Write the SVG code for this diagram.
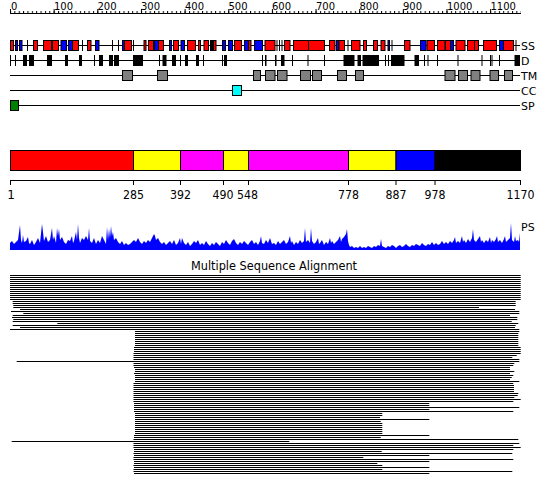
<svg xmlns="http://www.w3.org/2000/svg" width="550" height="495" viewBox="0 0 550 495">
<defs>
<style>
text{font-family:"DejaVu Sans",sans-serif;fill:#000}
.rl{font-family:"Liberation Sans Narrow","DejaVu Sans Condensed","Liberation Sans",sans-serif;font-size:10px}
.ax{font-size:12px;text-anchor:middle}
.lb{font-size:11px}
.r{fill:#f00;stroke:#000;stroke-width:1}
.b{fill:#00f;stroke:#000;stroke-width:1}
.k{fill:#000}
.g{fill:#808080;stroke:#000;stroke-width:1}
.ln{stroke:#000;stroke-width:1;fill:none}
</style>
<pattern id="mt" x="10" y="0" width="4.365" height="20" patternUnits="userSpaceOnUse">
<rect x="0" y="11" width="1" height="3" fill="#000"/>
</pattern>
</defs>
<rect width="550" height="495" fill="#fff"/>

<g id="ruler">
<rect x="10" y="11" width="511" height="3" fill="url(#mt)"/>
<path class="ln" d="M10 13.5H521"/>
<path class="ln" d="M10.5 9V14M54.15 9V14M97.8 9V14M141.45 9V14M185.1 9V14M228.75 9V14M272.4 9V14M316.05 9V14M359.7 9V14M403.35 9V14M447 9V14M490.65 9V14"/>
<g class="rl">
<text x="11" y="10">0</text>
<text x="54" y="10">100</text>
<text x="97.5" y="10">200</text>
<text x="141" y="10">300</text>
<text x="185" y="10">400</text>
<text x="228.5" y="10">500</text>
<text x="272" y="10">600</text>
<text x="316" y="10">700</text>
<text x="359.5" y="10">800</text>
<text x="403" y="10">900</text>
<text x="447" y="10">1000</text>
<text x="490.5" y="10">1100</text>
</g>
</g>

<g id="track-lines">
<path class="ln" d="M10 45.5H520M10 60.5H520M10 75.5H520M10 90.5H520M10 105.5H520"/>
</g>

<g id="SS">
<rect class="r" x="10.5" y="40.5" width="3" height="10"/>
<rect class="b" x="15.5" y="40.5" width="2" height="10"/>
<rect class="b" x="19.5" y="40.5" width="2.5" height="10"/>
<rect class="k" x="27" y="40" width="1" height="11"/>
<rect class="r" x="33.5" y="40.5" width="4" height="10"/>
<rect class="r" x="43.5" y="40.5" width="8" height="10"/>
<rect class="r" x="52.5" y="40.5" width="6" height="10"/>
<rect class="b" x="61" y="40.5" width="5.5" height="10"/>
<rect class="b" x="68.5" y="40.5" width="4" height="10"/>
<rect class="r" x="72.5" y="40.5" width="6" height="10"/>
<rect class="k" x="82" y="40" width="1" height="11"/>
<rect class="r" x="87.5" y="40.5" width="3.5" height="10"/>
<rect class="b" x="95.5" y="40.5" width="3.5" height="10"/>
<rect class="k" x="112" y="40" width="1" height="11"/>
<rect class="k" x="118" y="40" width="1" height="11"/>
<rect class="b" x="122.5" y="40.5" width="2" height="10"/>
<rect class="r" x="124.5" y="40.5" width="7" height="10"/>
<rect class="k" x="133" y="40" width="1" height="11"/>
<rect class="r" x="144" y="40.5" width="2" height="10"/>
<rect class="r" x="148.5" y="40.5" width="5" height="10"/>
<rect class="b" x="154.5" y="40.5" width="4" height="10"/>
<rect class="r" x="158.5" y="40.5" width="5" height="10"/>
<rect class="b" x="169.5" y="40.5" width="2" height="10"/>
<rect class="r" x="173.5" y="40.5" width="5" height="10"/>
<rect class="b" x="181" y="40.5" width="3.5" height="10"/>
<rect class="r" x="187.5" y="40.5" width="8" height="10"/>
<rect class="r" x="198.5" y="40.5" width="2" height="10"/>
<rect class="r" x="204" y="40.5" width="4.5" height="10"/>
<rect class="k" x="210" y="40" width="3.5" height="11"/>
<rect class="r" x="213.5" y="40.5" width="2.5" height="10"/>
<rect class="b" x="222.5" y="40.5" width="3" height="10"/>
<rect class="b" x="228.5" y="40.5" width="4" height="10"/>
<rect class="r" x="234.5" y="40.5" width="7" height="10"/>
<rect class="b" x="244.5" y="40.5" width="4" height="10"/>
<rect class="r" x="248.5" y="40.5" width="2.5" height="10"/>
<rect class="b" x="254.5" y="40.5" width="8" height="10"/>
<rect class="r" x="265" y="40.5" width="10" height="10"/>
<rect class="k" x="276.5" y="40" width="1" height="11"/>
<rect class="k" x="279" y="40" width="1" height="11"/>
<rect class="k" x="281.5" y="40" width="1" height="11"/>
<rect class="r" x="284.5" y="40.5" width="5.5" height="10"/>
<rect class="r" x="293.5" y="40.5" width="15" height="10"/>
<rect class="r" x="308.5" y="40.5" width="16" height="10"/>
<rect class="r" x="329.5" y="40.5" width="5.5" height="10"/>
<rect class="b" x="336.5" y="40.5" width="2.5" height="10"/>
<rect class="r" x="339" y="40.5" width="5.5" height="10"/>
<rect class="k" x="347.5" y="40" width="1" height="11"/>
<rect class="r" x="351.5" y="40.5" width="8.5" height="10"/>
<rect class="r" x="363.5" y="40.5" width="3" height="10"/>
<rect class="r" x="373.5" y="40.5" width="4" height="10"/>
<rect class="r" x="381" y="40.5" width="4" height="10"/>
<rect class="b" x="388" y="40.5" width="1.5" height="10"/>
<rect class="k" x="391.5" y="40" width="1" height="11"/>
<rect class="r" x="404.5" y="40.5" width="5.5" height="10"/>
<rect class="b" x="420.5" y="40.5" width="5.5" height="10"/>
<rect class="r" x="427" y="40.5" width="7.5" height="10"/>
<rect class="r" x="437.5" y="40.5" width="7.5" height="10"/>
<rect class="r" x="445.5" y="40.5" width="5" height="10"/>
<rect class="b" x="450.5" y="40.5" width="3" height="10"/>
<rect class="r" x="456" y="40.5" width="9" height="10"/>
<rect class="r" x="467.5" y="40.5" width="7" height="10"/>
<rect class="r" x="474.5" y="40.5" width="4" height="10"/>
<rect class="r" x="483.5" y="40.5" width="13" height="10"/>
<rect class="b" x="499.5" y="40.5" width="4" height="10"/>
<rect class="r" x="503.5" y="40.5" width="10" height="10"/>
<rect class="k" x="515.5" y="40" width="1" height="11"/>
<text class="lb" x="521" y="50">SS</text>
</g>

<g id="D">
<rect class="k" x="10" y="55" width="1" height="11"/>
<rect class="k" x="15" y="55" width="1" height="11"/>
<rect class="k" x="23" y="55" width="4" height="11"/>
<rect class="k" x="29" y="55" width="5" height="11"/>
<rect class="k" x="47" y="55" width="5" height="11"/>
<rect class="k" x="65" y="55" width="3" height="11"/>
<rect class="k" x="79" y="55" width="3" height="11"/>
<rect class="k" x="94" y="55" width="1" height="11"/>
<rect class="k" x="99" y="55" width="4" height="11"/>
<rect class="k" x="109" y="55" width="4" height="11"/>
<rect class="k" x="114" y="55" width="5" height="11"/>
<rect class="k" x="133" y="55" width="10" height="11"/>
<rect class="k" x="159" y="55" width="1" height="11"/>
<rect class="k" x="162.5" y="55" width="4" height="11"/>
<rect class="k" x="172" y="55" width="4" height="11"/>
<rect class="k" x="180" y="55" width="1" height="11"/>
<rect class="k" x="185" y="55" width="3" height="11"/>
<rect class="k" x="196" y="55" width="3" height="11"/>
<rect class="k" x="203" y="55" width="1" height="11"/>
<rect class="k" x="222" y="55" width="1" height="11"/>
<rect class="k" x="224" y="55" width="3" height="11"/>
<rect class="k" x="262" y="55" width="1" height="11"/>
<rect class="k" x="265" y="55" width="1.5" height="11"/>
<rect class="k" x="275" y="55" width="1.5" height="11"/>
<rect class="k" x="281" y="55" width="3.5" height="11"/>
<rect class="k" x="292" y="55" width="1" height="11"/>
<rect class="k" x="307.5" y="55" width="1" height="11"/>
<rect class="k" x="324" y="55" width="1" height="11"/>
<rect class="k" x="343.5" y="55" width="11" height="11"/>
<rect class="k" x="357.5" y="55" width="3.5" height="11"/>
<rect class="k" x="362.5" y="55" width="16.5" height="11"/>
<rect class="k" x="385" y="55" width="1" height="11"/>
<rect class="k" x="388" y="55" width="1" height="11"/>
<rect class="k" x="391" y="55" width="13.5" height="11"/>
<rect class="k" x="414.5" y="55" width="4.5" height="11"/>
<rect class="k" x="424" y="55" width="1" height="11"/>
<rect class="k" x="427.5" y="55" width="1" height="11"/>
<rect class="k" x="437" y="55" width="1" height="11"/>
<rect class="k" x="457.5" y="55" width="1" height="11"/>
<rect class="k" x="481.5" y="55" width="1" height="11"/>
<rect class="k" x="490" y="55" width="1" height="11"/>
<rect class="k" x="491.5" y="55" width="1" height="11"/>
<rect class="k" x="499" y="55" width="1" height="11"/>
<rect class="k" x="514.5" y="55" width="5.5" height="11"/>
<text class="lb" x="521" y="65">D</text>
</g>

<g id="TM">
<rect class="g" x="122.5" y="70.5" width="10" height="10"/>
<rect class="g" x="157.5" y="70.5" width="10" height="10"/>
<rect class="g" x="253.5" y="70.5" width="7" height="10"/>
<rect class="g" x="265.5" y="70.5" width="9.5" height="10"/>
<rect class="g" x="277.5" y="70.5" width="9.5" height="10"/>
<rect class="g" x="300.5" y="70.5" width="10" height="10"/>
<rect class="g" x="312.5" y="70.5" width="9" height="10"/>
<rect class="g" x="337.5" y="70.5" width="9" height="10"/>
<rect class="g" x="355.5" y="70.5" width="8" height="10"/>
<rect class="g" x="445" y="70.5" width="10" height="10"/>
<rect class="g" x="458.5" y="70.5" width="9" height="10"/>
<rect class="g" x="471" y="70.5" width="9" height="10"/>
<rect class="g" x="490" y="70.5" width="8.5" height="10"/>
<rect class="g" x="504.5" y="70.5" width="8" height="10"/>
<text class="lb" x="521" y="80">TM</text>
</g>

<g id="CC">
<rect x="232.5" y="85.5" width="9" height="10" fill="#0ff" stroke="#000"/>
<text class="lb" x="521" y="95">CC</text>
</g>

<g id="SP">
<rect x="10.5" y="100.5" width="8" height="10" fill="#008000" stroke="#000"/>
<text class="lb" x="521" y="110">SP</text>
</g>

<g id="domains">
<rect x="10.5" y="150.5" width="123" height="20" fill="#f00" stroke="#000"/>
<rect x="133.5" y="150.5" width="47" height="20" fill="#ff0" stroke="#000"/>
<rect x="180.5" y="150.5" width="43" height="20" fill="#f0f" stroke="#000"/>
<rect x="223.5" y="150.5" width="25" height="20" fill="#ff0" stroke="#000"/>
<rect x="248.5" y="150.5" width="100" height="20" fill="#f0f" stroke="#000"/>
<rect x="348.5" y="150.5" width="47.5" height="20" fill="#ff0" stroke="#000"/>
<rect x="396" y="150.5" width="39" height="20" fill="#00f" stroke="#000"/>
<rect x="435" y="150.5" width="85.5" height="20" fill="#000" stroke="#000"/>
</g>

<g id="domain-axis">
<path class="ln" d="M10 180.5H521M10.5 180V185M133.5 180V185M180.5 180V185M223.5 180V185M248.5 180V185M348.5 180V185M396 180V185M435 180V185M520.5 180V185"/>
<g class="ax">
<text x="11" y="199">1</text>
<text x="133.5" y="199" textLength="21" lengthAdjust="spacingAndGlyphs">285</text>
<text x="180.5" y="199" textLength="21" lengthAdjust="spacingAndGlyphs">392</text>
<text x="223" y="199" textLength="21" lengthAdjust="spacingAndGlyphs">490</text>
<text x="247.5" y="199" textLength="21" lengthAdjust="spacingAndGlyphs">548</text>
<text x="348.5" y="199" textLength="21" lengthAdjust="spacingAndGlyphs">778</text>
<text x="396" y="199" textLength="21" lengthAdjust="spacingAndGlyphs">887</text>
<text x="435" y="199" textLength="21" lengthAdjust="spacingAndGlyphs">978</text>
<text x="520.5" y="199" textLength="28" lengthAdjust="spacingAndGlyphs">1170</text>
</g>
</g>

<g id="PS">
<path fill="#00f" d="M10 250L10 243L12 241L14 244L16 242L18 240L20 225L21 240L22 243L23 235L24 242L26 241L28 237L29 243L30 244L32 240L34 245L36 242L38 238L40 243L42 224L43 232L44 241L46 236L48 242L50 240L52 228L53 240L54 236L56 243L57 228L58 236L59 229L60 240L62 237L64 242L66 244L68 240L70 241L72 236L73 243L74 241L76 232L77 240L78 224L79 238L80 243L82 238L84 240L86 236L88 240L89 228L90 241L92 243L94 238L96 244L98 240L100 243L102 236L104 240L106 244L107 227L108 240L109 229L110 238L111 226L112 236L113 232L114 240L116 238L118 242L120 244L122 241L124 245L126 243L128 245L130 244L132 242L134 240L136 242L138 238L140 242L142 244L144 241L146 243L148 240L150 242L152 238L154 234L155 236L156 240L158 238L160 242L162 244L164 242L166 245L168 243L170 241L172 244L174 240L176 245L178 243L180 238L181 244L182 238L184 243L186 245L188 242L190 246L192 244L194 241L196 243L198 240L200 245L202 243L204 245L206 241L208 244L210 246L212 243L214 245L216 242L218 244L220 246L222 242L224 244L226 240L228 243L230 245L232 241L234 239L236 243L238 245L240 242L242 244L244 241L246 243L248 245L250 242L252 240L254 244L256 242L258 245L260 241L261 236L262 243L264 244L266 240L268 243L270 238L272 244L274 243L276 245L278 241L280 244L282 242L284 240L286 244L288 242L290 236L291 243L292 241L294 245L296 242L298 244L300 240L302 243L304 241L305 228L306 242L308 240L310 243L311 228L312 241L314 244L316 242L318 238L319 244L320 243L322 240L324 245L326 242L328 244L330 238L331 243L332 241L334 244L336 242L338 240L340 236L341 242L342 239L344 237L346 234L347 229L348 241L349 245L350 247L352 246L354 248L356 247L358 248L360 246L362 248L364 247L366 248L368 246L370 247L372 248L374 246L376 247L378 245L380 246L381 239L382 246L384 247L386 248L388 246L390 247L392 245L394 246L396 248L398 246L400 245L402 247L404 246L406 244L408 246L410 247L412 245L414 246L416 244L418 245L420 246L422 243L424 245L426 246L428 244L430 245L432 242L434 245L436 243L438 245L440 244L442 241L444 244L446 242L448 244L450 241L452 243L454 240L455 237L456 243L458 241L460 243L462 236L463 242L464 240L466 243L468 239L470 242L472 238L473 229L474 240L476 242L478 239L480 236L481 242L482 240L484 243L486 240L488 242L490 237L491 243L492 240L494 242L496 239L497 236L498 242L500 240L502 243L504 239L505 236L506 242L508 240L510 238L511 223L512 240L514 242L515 236L516 241L518 240L519 242L520 233L520 250Z"/>
<text class="lb" x="521" y="231">PS</text>
</g>

<g id="MSA">
<text x="274" y="270" font-size="12" text-anchor="middle" textLength="166" lengthAdjust="spacingAndGlyphs">Multiple Sequence Alignment</text>
<path class="ln" d="M10 275.5H520.7M10 277.5H520.7M10 279.5H520.7M10 281.5H520.7M10 283.5H520.7M10 285.5H520.7M10 287.5H520.7M10 289.5H520.7M10 291.5H520.7M10 293.5H520.7M10 295.5H520.7M10 297.5H520.7M10 299.5H520.7M12.7 301.5H515.7M12.7 303.5H515.7M13.3 305.5H515.7M13.3 307.5H479M20 309.5H515M11 311.5H519.3M23.3 313.5H519.3M12.7 315.5H510M12 317.5H517.3M13.3 319.5H517.3M12.7 321.5H511.7M57.3 323.5H518.3M12.7 325.5H515.7M20 327.5H515M10 329.5H519.3M135 331.5H519.3M135 333.5H518.3M135 335.5H518.3M135 337.5H518.3M135 339.5H518.3M135 341.5H518.3M135 343.5H518.3M135 345.5H518.3M134 347.5H520.7M134 349.5H520.7M134 351.5H520.7M133.5 353.5H520.7M133.5 355.5H516.7M133.5 357.5H512.3M133.5 359.5H519.3M16.7 361.5H519.3M133.5 363.5H514.3M133.5 365.5H513.3M134 367.5H510M135 369.5H510M135 371.5H514.3M134 373.5H510M135 375.5H513.3M135 377.5H511.7M135 379.5H510M135 381.5H519.3M133.5 383.5H513.3M133.5 385.5H514M133.5 387.5H514M133.5 389.5H514M133.5 391.5H514M133.5 393.5H518.3M133.5 395.5H517.7M133.5 397.5H514.3M133.5 399.5H520.7M133.5 401.5H513.3M134 403.5H429.3M134 405.5H429.3M134 407.5H519.3M134 409.5H429.3M134 411.5H513.3M135 413.5H382.3M135 415.5H382.3M135 417.5H380M135 419.5H429.3M135 421.5H380.7M135 423.5H382.3M135 425.5H382.3M135 427.5H382.3M135 429.5H382.3M135 431.5H382.3M135 433.5H382.3M134 435.5H429.3M134 437.5H380.7M133.5 439.5H518.3M11.7 441.5H289.3M133.5 443.5H519.3M133.5 445.5H513.3M133.5 447.5H520.7M134 449.5H513.3M134 451.5H381.7M133.5 453.5H512.3M134 455.5H429.3M133.5 457.5H363.3M133.5 459.5H513.3M134 461.5H429.3M134 463.5H377.3M133.5 465.5H382.3M134 467.5H429.3M133.5 469.5H382.3M133.5 471.5H512.3M134 473.5H429.3"/>
</g>
</svg>
